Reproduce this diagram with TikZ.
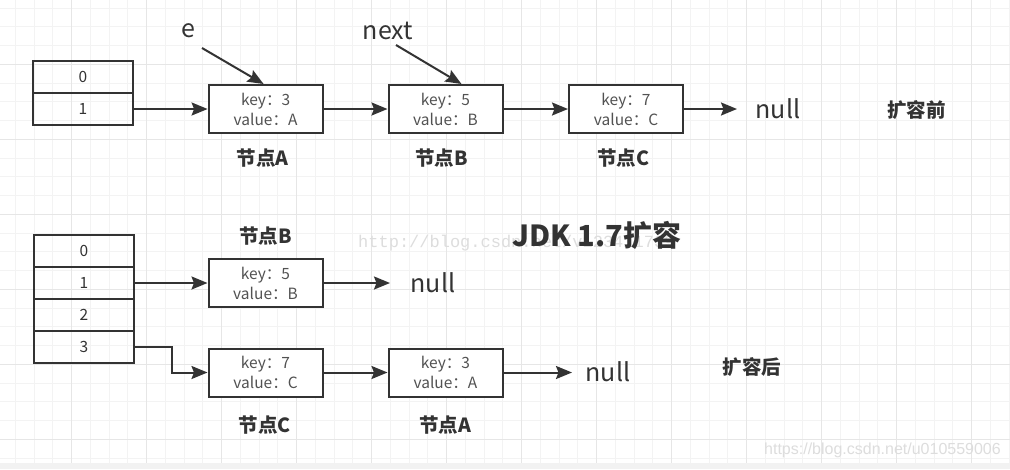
\documentclass[tikz,border=0pt]{standalone}
\usepackage{fontspec}
\setmainfont{Noto Sans CJK SC}
\newfontfamily\wmserif{Liberation Mono}
\newfontfamily\wmsans{Liberation Sans}
\usetikzlibrary{arrows.meta}
\definecolor{ink}{HTML}{333333}
\definecolor{gridminor}{HTML}{F3F3F3}
\definecolor{gridmajor}{HTML}{E6E6E6}
\definecolor{wm}{HTML}{DDDDDD}
\tikzset{
  cell/.style={draw=ink, line width=2pt, minimum width=100pt, minimum height=32pt, inner sep=0pt, text=ink, font=\fontsize{15.5}{15.5}\selectfont},
  entry/.style={draw=ink, line width=2pt, fill=white, minimum width=114pt, minimum height=48pt, inner sep=0pt, align=center, text=ink!85, font=\fontsize{15.5}{20}\selectfont},
  tag/.style={text=ink, font=\fontsize{19.5}{19.5}\selectfont\bfseries, inner sep=0pt},
  big/.style={text=ink, font=\fontsize{25}{25}\selectfont, inner sep=0pt},
  link/.style={draw=ink, line width=2pt, -{Stealth[length=16pt,width=13pt,inset=2.5pt]}},
}
\begin{document}
\begin{tikzpicture}[x=1pt,y=-1pt]
\useasboundingbox (0,0) rectangle (1010,469);
\fill[white] (0,0) rectangle (1010,469);
% grid
\foreach \i in {0,...,54} {
  \pgfmathsetmacro{\gx}{-3.4+18.75*\i}
  \draw[gridminor, line width=1pt] (\gx,0) -- (\gx,463);
}
\foreach \j in {0,...,24} {
  \pgfmathsetmacro{\gy}{8.05+18.75*\j}
  \draw[gridminor, line width=1pt] (0,\gy) -- (1010,\gy);
}
\foreach \i in {0,...,13} {
  \pgfmathsetmacro{\gx}{-3.4+75*\i}
  \draw[gridmajor, line width=1pt] (\gx,0) -- (\gx,463);
}
\foreach \j in {0,...,6} {
  \pgfmathsetmacro{\gy}{-10.7+75*\j}
  \draw[gridmajor, line width=1pt] (0,\gy) -- (1010,\gy);
}
\fill[gray!10] (0,463) rectangle (1010,469);

% watermarks
\node[text=wm, font=\wmserif\fontsize{17}{17}\selectfont, anchor=west, inner sep=0pt] (wm1) at (358,243) {http://blog.csdn.net/v123411739};
\node[text=wm, font=\wmsans\fontsize{16}{16}\selectfont, anchor=east, inner sep=0pt] (wm2) at (1001,450) {https://blog.csdn.net/u010559006};

% ---------- top: before resize ----------
\node[cell] (t0) at (83,77) {0};
\node[cell] (t1) at (83,109) {1};
\node[entry] (A) at (265.6,109) {key：3\\value：A};
\node[entry] (B) at (445.5,109) {key：5\\value：B};
\node[entry] (C) at (626,109) {key：7\\value：C};
\node[big] (n1) at (778,109) {null};
\node[tag] (before) at (916.7,110) {扩容前};
\node[big] (e) at (188,31) {e};
\node[big] (nx) at (388,31) {next};
\node[tag] (la) at (262.7,158) {节点A};
\node[tag] (lb) at (441.7,158) {节点B};
\node[tag] (lc) at (623,158) {节点C};
\coordinate (eS) at (202,48);
\coordinate (nS) at (396,45);
\coordinate (n1e) at (737,109);

\draw[link] (t1.east) -- (A.west);
\draw[link] (A.east) -- (B.west);
\draw[link] (B.east) -- (C.west);
\draw[link] (C.east) -- (n1e);
\draw[link] (eS) -- ([xshift=-2pt]A.north);
\draw[link] (nS) -- ([xshift=16pt]B.north);

% ---------- title ----------
\node[text=ink, font=\fontsize{29}{29}\selectfont\bfseries, inner sep=0pt] (title) at (597,235) {JDK 1.7扩容};

% ---------- bottom: after resize ----------
\node[cell] (b0) at (84,251) {0};
\node[cell] (b1) at (84,283) {1};
\node[cell] (b2) at (84,315) {2};
\node[cell] (b3) at (84,347) {3};
\node[entry] (B2) at (265.5,283) {key：5\\value：B};
\node[entry] (C2) at (265.5,372.5) {key：7\\value：C};
\node[entry] (A2) at (445.5,372.5) {key：3\\value：A};
\node[big] (n2) at (433,283) {null};
\node[big] (n3) at (608,372) {null};
\node[tag] (after) at (752,367) {扩容后};
\node[tag] (lb2) at (265.7,236) {节点B};
\node[tag] (lc2) at (265,425) {节点C};
\node[tag] (la2) at (445,425) {节点A};
\coordinate (n2e) at (390,283);
\coordinate (n3e) at (572,372.5);

\draw[link] (b1.east) -- (B2.west);
\draw[link] (B2.east) -- (n2e);
\draw[link] (b3.east) -- ++(37,0) |- (C2.west);
\draw[link] (C2.east) -- (A2.west);
\draw[link] (A2.east) -- (n3e);
\end{tikzpicture}
\end{document}
